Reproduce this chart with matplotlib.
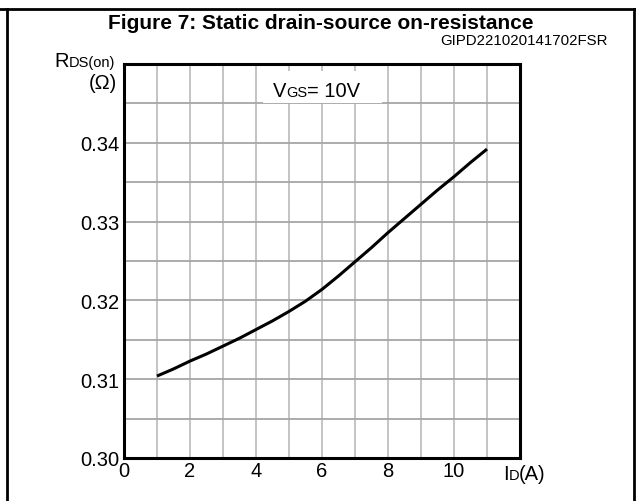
import matplotlib
matplotlib.use('Agg')
import matplotlib.pyplot as plt
from matplotlib.lines import Line2D
from matplotlib.patches import Rectangle

plt.rcParams['font.family'] = ['Liberation Sans', 'DejaVu Sans']

# data (VGS = 10 V)
id_a = [1, 1.5, 2, 2.5, 3, 3.5, 4, 4.5, 5, 5.5, 6,
        6.5, 7, 7.5, 8, 8.5, 9, 9.5, 10, 10.5, 11]
rds_on = [0.3104, 0.3113, 0.3123, 0.3132, 0.3142, 0.3152, 0.3163, 0.3174, 0.3186, 0.3199, 0.3214,
          0.3231, 0.3249, 0.3267, 0.3286, 0.3304, 0.3322, 0.3340, 0.3357, 0.3375, 0.3392]

x_ticks = [0, 1, 2, 3, 4, 5, 6, 7, 8, 9, 10, 11, 12]
x_labels = ['0', '', '2', '', '4', '', '6', '', '8', '', '10', '', '']
y_ticks = [0.300, 0.305, 0.310, 0.315, 0.320, 0.325, 0.330, 0.335, 0.340, 0.345, 0.350]
y_labels = ['0.30', '', '0.31', '', '0.32', '', '0.33', '', '0.34', '', '']

title = 'Figure 7: Static drain-source on-resistance'
code = 'GIPD221020141702FSR'

fig = plt.figure(figsize=(6.36, 5.02), dpi=100)
ax = fig.add_axes([124 / 636, 1 - 459 / 502, 396 / 636, 394 / 502])


def rich(ax, x, y, parts):
    # chain text pieces on one baseline, smaller pieces act as subscripts
    prev = None
    for s, fs in parts:
        if prev is None:
            prev = ax.annotate(s, xy=(x, y), xycoords='data', fontsize=fs,
                               ha='left', va='baseline', annotation_clip=False)
        else:
            prev = ax.annotate(s, xy=(1, y), xycoords=(prev, 'data'), fontsize=fs,
                               ha='left', va='baseline', annotation_clip=False)
    return prev


ax.plot(id_a, rds_on, color='black', lw=2.2, solid_capstyle='butt',
        solid_joinstyle='round', zorder=3)

ax.set_xlim(0, 12)
ax.set_ylim(0.30, 0.35)
ax.set_xticks(x_ticks)
ax.set_xticklabels(x_labels)
ax.set_yticks(y_ticks)
ax.set_yticklabels(y_labels)
ax.tick_params(length=0, labelsize=14.5, colors='black')
ax.tick_params(axis='x', pad=2)
ax.tick_params(axis='y', pad=3.5)

ax.set_axisbelow(True)
ax.grid(axis='x', color='#c4c4c4', lw=1.4)
ax.grid(axis='y', color='#a6a6a6', lw=1.3)
for sp in ax.spines.values():
    sp.set_linewidth(2.2)
    sp.set_zorder(5)

# white box behind the VGS note
ax.add_patch(Rectangle((4.21, 0.3451), 3.6, 0.0040, facecolor='white',
                       edgecolor='none', zorder=2))
rich(ax, 4.5, 0.34594, [('V', 14.5), ('GS', 10.5), ('= 10V', 14.5)])

# axis labels
rich(ax, -2.12, 0.34975, [('R', 14.5), ('DS(on)', 10.5)])
ax.text(-0.21, 0.34695, '(Ω)', fontsize=14.5, ha='right', va='baseline')
rich(ax, 11.48, 0.29733, [('I', 14.5), ('D', 10.5), ('(A)', 14.5)])

fig.text(0.505, 1 - 29 / 502, title, fontsize=15, fontweight='bold',
         ha='center', va='baseline')
fig.text(608 / 636, 1 - 45 / 502, code, fontsize=10.8, ha='right', va='baseline')

# outer frame
frame_kw = dict(color='black', lw=2, transform=fig.transFigure)
fig.add_artist(Line2D([0, 1], [1 - 10 / 502, 1 - 10 / 502], **frame_kw))
fig.add_artist(Line2D([7 / 636, 7 / 636], [0, 1 - 10 / 502], **frame_kw))
fig.add_artist(Line2D([634 / 636, 634 / 636], [0, 1 - 10 / 502], **frame_kw))

fig.savefig('out.png', dpi=100)
